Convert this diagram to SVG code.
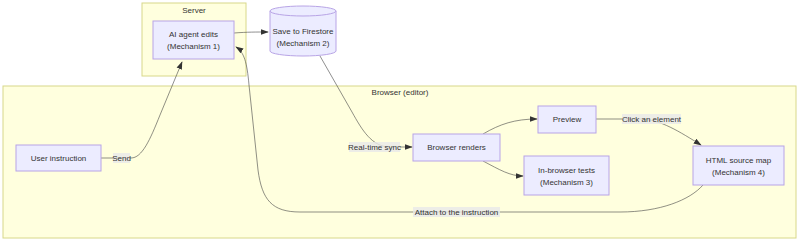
<svg xmlns="http://www.w3.org/2000/svg" width="800" height="242" viewBox="0 0 800 242">
<style>
text{font-family:"Liberation Sans",Arial,sans-serif;font-size:8px;fill:#333;text-anchor:middle;dominant-baseline:central}
.cluster{fill:#ffffde;stroke:#d8d88a;stroke-width:1}
.node{fill:#ECECFF;stroke:#b8a4e6;stroke-width:1}
.edge{fill:none;stroke:#444;stroke-width:0.6}
.lbl{fill:#e8e8e8;fill-opacity:0.8}
</style>
<defs>
<marker id="ah" markerUnits="userSpaceOnUse" markerWidth="8" markerHeight="8" viewBox="0 0 10 10" refX="9" refY="5" orient="auto">
<path d="M0,1.5 L10,5 L0,8.5 z" fill="#333"/>
</marker>
</defs>
<g id="cluster-server">
<rect class="cluster" x="142" y="3" width="104" height="73"/>
<text x="194" y="10">Server</text>
</g>
<g id="cluster-browser">
<rect class="cluster" x="3" y="86" width="793" height="152"/>
<text x="400" y="92">Browser (editor)</text>
</g>
<g id="edges">
<path class="edge" d="M234,33 C248,32 255,32 268,32" marker-end="url(#ah)"/>
<path class="edge" d="M101,158 L131,158 C142,158 150,140 160,115 L182,62" marker-end="url(#ah)"/>
<path class="edge" d="M320,56 L352,112 C362,130 372,147 390,147 L412,147" marker-end="url(#ah)"/>
<path class="edge" d="M483,134 C500,124 515,119 537,119" marker-end="url(#ah)"/>
<path class="edge" d="M483,161 C500,170 510,176 523,176" marker-end="url(#ah)"/>
<path class="edge" d="M596,119 L640,119 C660,119 680,132 701,145" marker-end="url(#ah)"/>
<path class="edge" d="M703,185 C690,200 660,212 620,212 L300,212 C272,212 262,200 258,170 L249,85 C247,62 244,52 236,47" marker-end="url(#ah)"/>
</g>
<g id="edge-labels">
<rect class="lbl" x="113" y="153" width="17" height="10"/>
<text x="121.5" y="158">Send</text>
<rect class="lbl" x="349" y="142" width="51" height="10"/>
<text x="374.5" y="147">Real-time sync</text>
<rect class="lbl" x="622" y="114" width="59" height="10"/>
<text x="651.5" y="119">Click an element</text>
<rect class="lbl" x="413" y="207" width="87" height="10"/>
<text x="456.5" y="212">Attach to the instruction</text>
</g>
<g id="node-ai">
<rect class="node" x="153" y="21" width="81" height="38"/>
<text x="193.5" y="34">AI agent edits</text>
<text x="193.5" y="46">(Mechanism 1)</text>
</g>
<g id="node-firestore">
<path class="node" d="M270,11 A33,5 0 0 1 336,11 L336,51 A33,5 0 0 1 270,51 Z"/>
<path class="node" d="M270,11 A33,5 0 0 0 336,11" fill="none"/>
<text x="303" y="31">Save to Firestore</text>
<text x="303" y="43">(Mechanism 2)</text>
</g>
<g id="node-user">
<rect class="node" x="16" y="145" width="85" height="26"/>
<text x="58.5" y="158">User instruction</text>
</g>
<g id="node-render">
<rect class="node" x="413" y="134" width="87" height="27"/>
<text x="456.5" y="147.5">Browser renders</text>
</g>
<g id="node-preview">
<rect class="node" x="538" y="106" width="58" height="27"/>
<text x="567" y="119.5">Preview</text>
</g>
<g id="node-tests">
<rect class="node" x="524" y="156" width="85" height="39"/>
<text x="566.5" y="170">In-browser tests</text>
<text x="566.5" y="182">(Mechanism 3)</text>
</g>
<g id="node-sourcemap">
<rect class="node" x="693" y="146" width="91" height="39"/>
<text x="738.5" y="160">HTML source map</text>
<text x="738.5" y="172">(Mechanism 4)</text>
</g>
</svg>
